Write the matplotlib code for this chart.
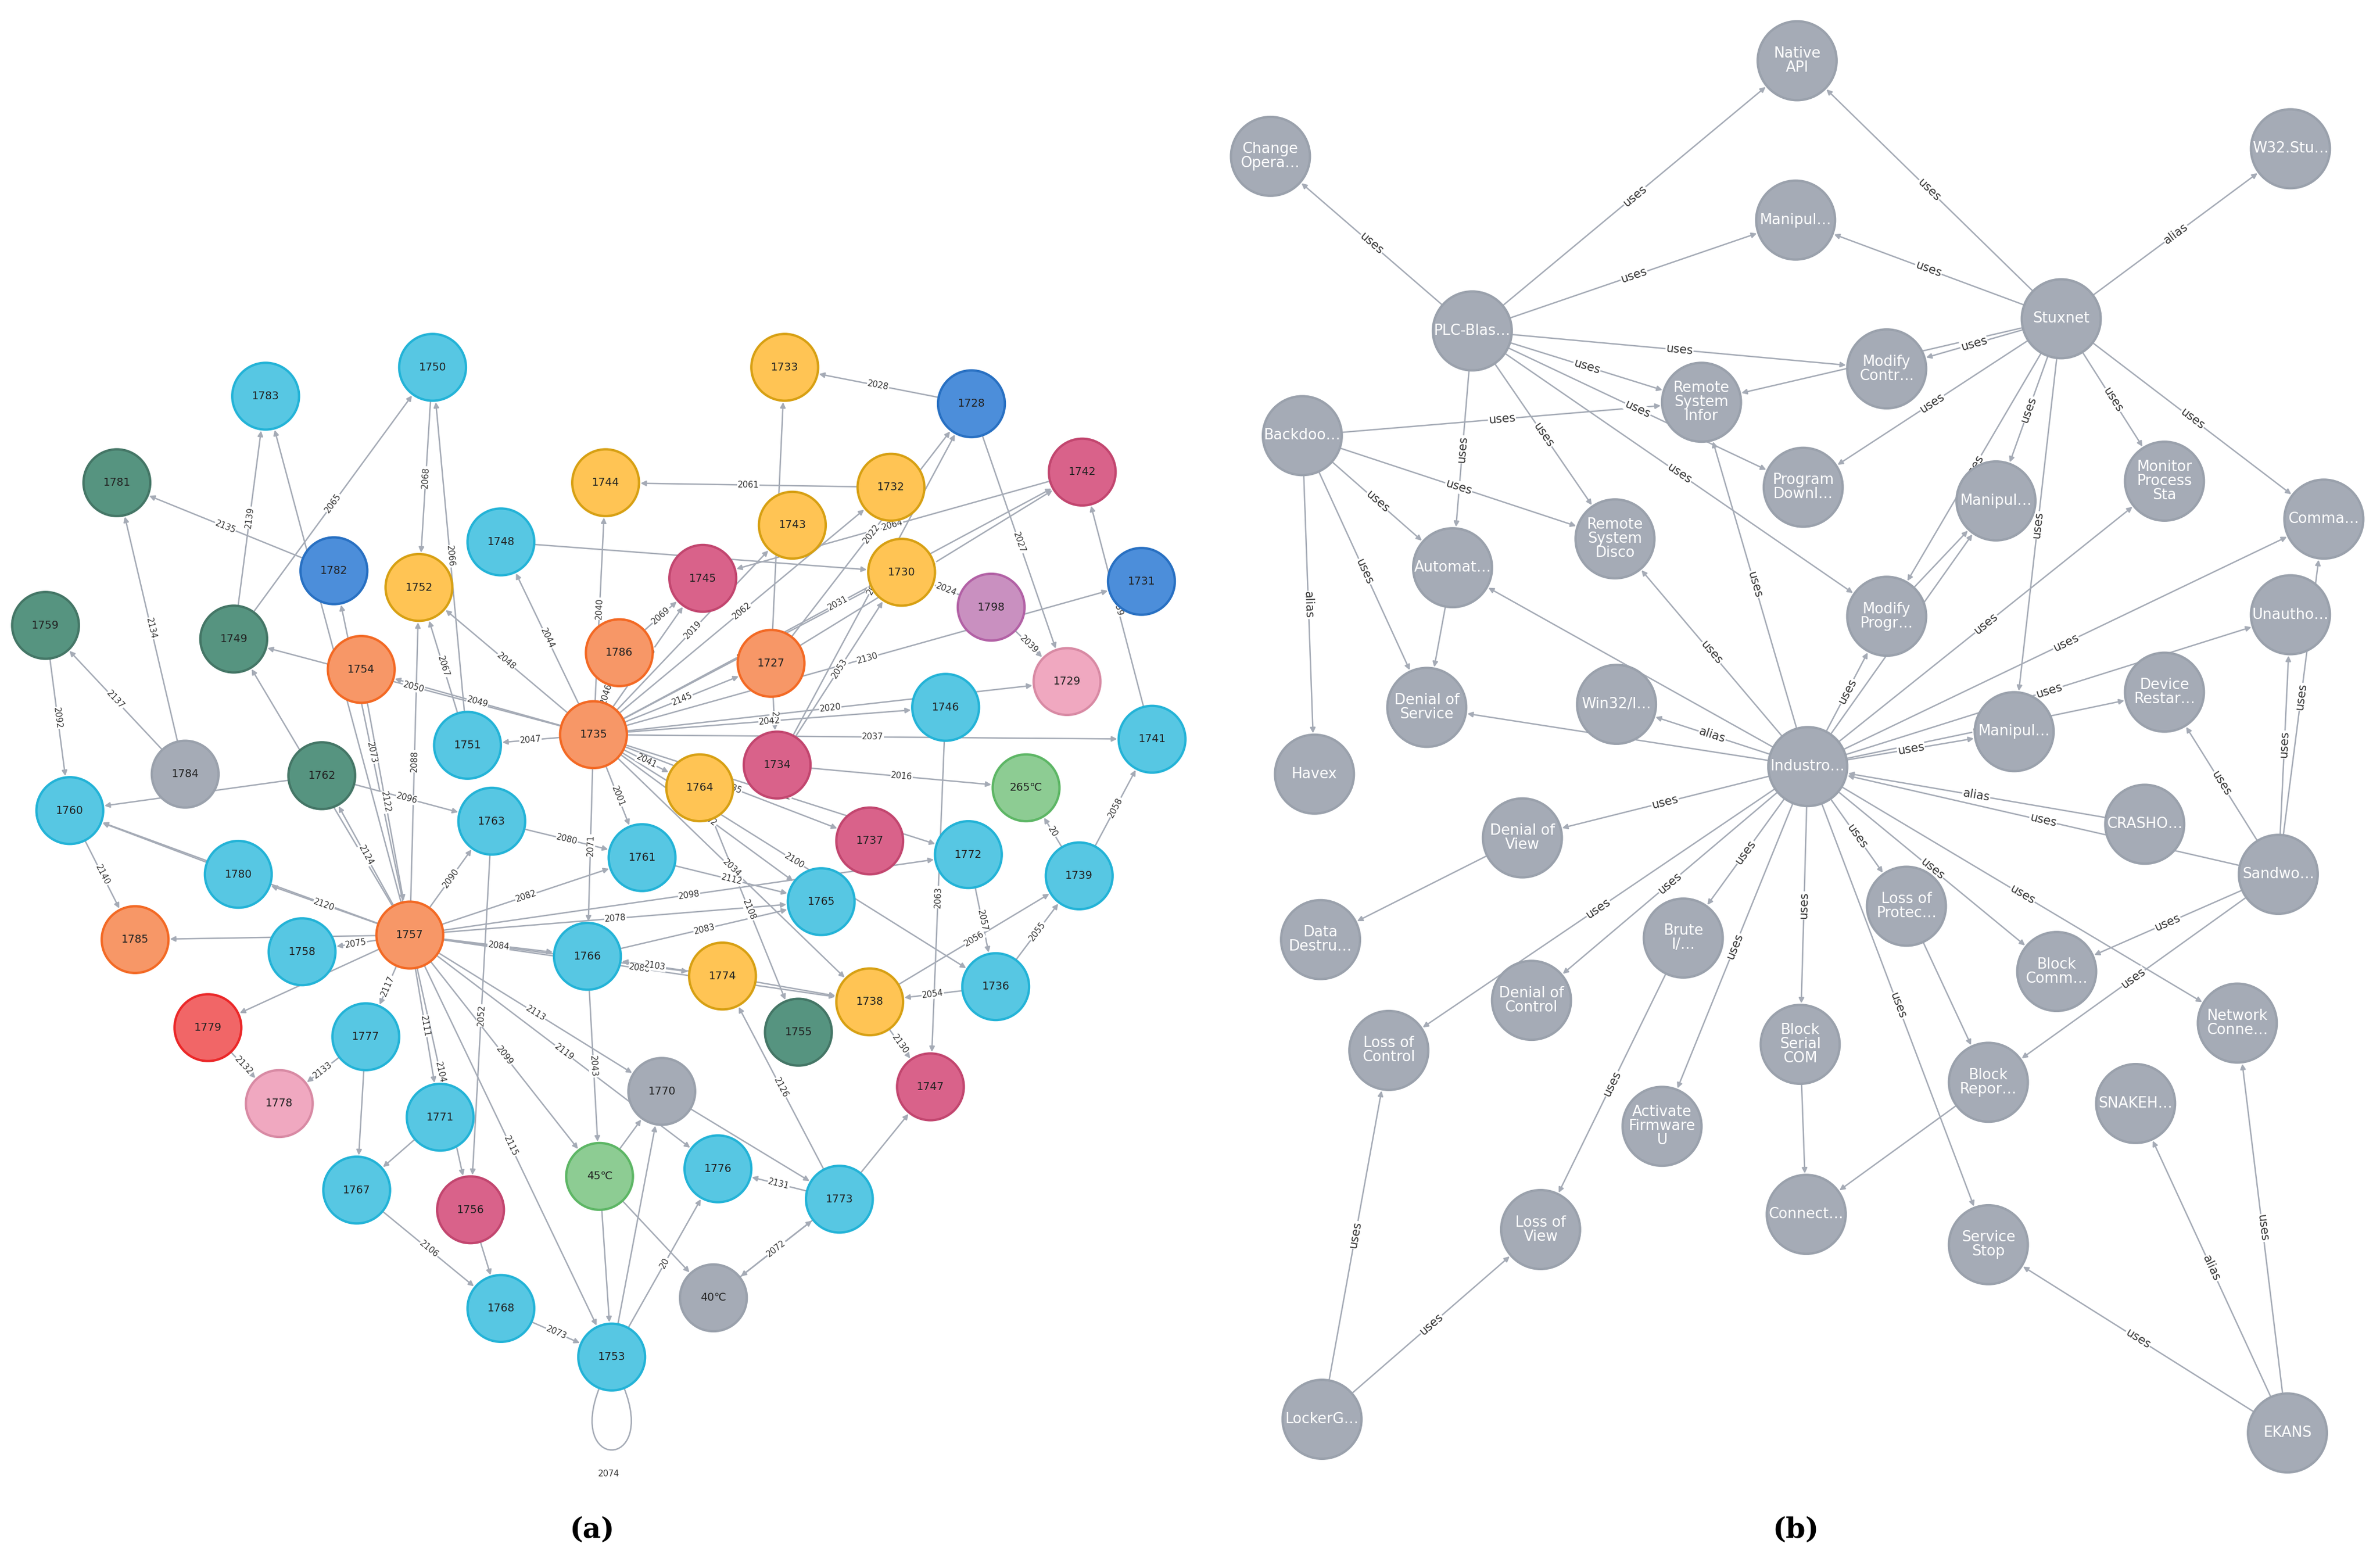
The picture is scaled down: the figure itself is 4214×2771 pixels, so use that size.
import math
import matplotlib
matplotlib.use('Agg')
import matplotlib.pyplot as plt
from matplotlib.patches import Circle, FancyArrowPatch
from matplotlib.path import Path
from matplotlib.patches import PathPatch

W, H = 1568, 1031            # layout space of the reference (pixels)
PX = (4214 / W) / 300 * 72   # points per layout pixel

col = {
    'cyan': ('#57C7E3', '#23B3D7'), 'yel': ('#FFC454', '#D7A013'),
    'org': ('#F79767', '#F36924'), 'dg': ('#569480', '#447666'),
    'pink': ('#D9628A', '#C2466F'), 'blue': ('#4C8EDA', '#2870C2'),
    'lp': ('#F0A8C0', '#D88AA4'), 'gray': ('#A5ABB6', '#9AA1AC'),
    'lg': ('#8DCC93', '#5DB665'), 'red': ('#F16667', '#EB2728'),
    'pur': ('#C990C0', '#B261A5'),
}

# panel (a) nodes: name, x, y, colour
a_nodes = [
    ('1750', 285, 242, 'cyan'), ('1783', 175, 261, 'cyan'), ('1781', 77, 318, 'dg'),
    ('1782', 220, 376, 'blue'), ('1752', 276, 387, 'yel'), ('1748', 330, 357, 'cyan'),
    ('1744', 399, 318, 'yel'), ('1733', 517, 242, 'yel'), ('1728', 640, 266, 'blue'),
    ('1732', 587, 321, 'yel'), ('1742', 713, 311, 'pink'), ('1743', 522, 346, 'yel'),
    ('1745', 463, 381, 'pink'), ('1730', 594, 377, 'yel'), ('1731', 752, 383, 'blue'),
    ('1798', 653, 400, 'pur'), ('1759', 30, 412, 'dg'), ('1749', 154, 421, 'dg'),
    ('1754', 238, 441, 'org'), ('1786', 408, 430, 'org'), ('1727', 508, 437, 'org'),
    ('1729', 703, 449, 'lp'), ('1746', 623, 466, 'cyan'), ('1741', 759, 487, 'cyan'),
    ('1784', 122, 510, 'gray'), ('1762', 212, 511, 'dg'), ('1751', 308, 491, 'cyan'),
    ('1735', 391, 484, 'org'), ('1734', 512, 504, 'pink'), ('1764', 461, 519, 'yel'),
    ('265℃', 676, 519, 'lg'), ('1760', 46, 534, 'cyan'), ('1763', 324, 541, 'cyan'),
    ('1737', 573, 554, 'pink'), ('1772', 638, 563, 'cyan'), ('1739', 711, 577, 'cyan'),
    ('1761', 423, 565, 'cyan'), ('1780', 157, 576, 'cyan'), ('1765', 541, 594, 'cyan'),
    ('1757', 270, 616, 'org'), ('1785', 89, 619, 'org'), ('1758', 199, 627, 'cyan'),
    ('1766', 387, 630, 'cyan'), ('1774', 476, 643, 'yel'), ('1736', 656, 650, 'cyan'),
    ('1738', 573, 660, 'yel'), ('1755', 526, 680, 'dg'), ('1779', 137, 677, 'red'),
    ('1777', 241, 683, 'cyan'), ('1747', 613, 716, 'pink'), ('1778', 184, 727, 'lp'),
    ('1771', 290, 736, 'cyan'), ('1770', 436, 719, 'gray'), ('45℃', 395, 775, 'lg'),
    ('1776', 473, 770, 'cyan'), ('1773', 553, 790, 'cyan'), ('1767', 235, 784, 'cyan'),
    ('1756', 310, 797, 'pink'), ('40℃', 470, 855, 'gray'), ('1768', 330, 862, 'cyan'),
    ('1753', 403, 894, 'cyan'),
]

a_edges = [
    ('1750', '1752', '2068'), ('1751', '1750', '2066'), ('1757', '1752', '2088'),
    ('1751', '1752', '2067'), ('1749', '1750', '2065'), ('1757', '1783', '2138'),
    ('1749', '1783', '2139'), ('1782', '1781', '2135'), ('1784', '1781', '2134'),
    ('1759', '1760', '2092'), ('1784', '1759', '2137'), ('1757', '1749', '2121'),
    ('1735', '1749', '2050'), ('1735', '1754', '2049'), ('1754', '1757', '2122'),
    ('1757', '1782', '2073'), ('1735', '1752', '2048'), ('1735', '1786', '2046'),
    ('1735', '1744', '2040'), ('1735', '1745', '2089'), ('1735', '1727', '2145'),
    ('1735', '1730', '2038'), ('1735', '1732', '2062'), ('1735', '1743', '2019'),
    ('1735', '1742', '2031'), ('1735', '1731', '2130'), ('1735', '1741', '2037'),
    ('1735', '1746', '2042'), ('1735', '1729', '2020'), ('1735', '1751', '2047'),
    ('1735', '1764', '2041'), ('1735', '1737', '2035'), ('1735', '1772', '2032'),
    ('1735', '1765', '2102'), ('1735', '1738', '2034'), ('1735', '1736', '2100'),
    ('1748', '1730', '2136'), ('1735', '1766', '2071'), ('1735', '1761', '2001'),
    ('1735', '1748', '2044'), ('1727', '1733', '2015'), ('1727', '1728', '2022'),
    ('1727', '1742', '2060'), ('1727', '1734', '2'), ('1734', '1728', '2018'),
    ('1734', '1730', '2053'), ('1728', '1733', '2028'), ('1728', '1729', '2027'),
    ('1732', '1744', '2061'), ('1742', '1745', '2064'), ('1798', '1730', '2024'),
    ('1798', '1729', '2039'), ('1741', '1742', '2059'), ('1746', '1747', '2063'),
    ('1734', '265℃', '2016'), ('1739', '265℃', '20'), ('1739', '1741', '2058'),
    ('1736', '1739', '2055'), ('1738', '1739', '2056'), ('1772', '1736', '2057'),
    ('1757', '1760', '2093'), ('1757', '1762', '2124'), ('1762', '1760', '2076'),
    ('1757', '1780', '2120'), ('1780', '1760', ''), ('1760', '1785', '2140'),
    ('1757', '1785', ''), ('1757', '1758', '2075'), ('1757', '1779', ''),
    ('1757', '1777', '2117'), ('1777', '1778', '2133'), ('1779', '1778', '2132'),
    ('1757', '1771', '2111'), ('1777', '1767', ''), ('1757', '1763', '2090'),
    ('1762', '1763', '2096'), ('1757', '1761', '2082'), ('1757', '1765', '2078'),
    ('1757', '1766', '2084'), ('1757', '1774', '2085'), ('1757', '1738', '2086'),
    ('1757', '1770', '2113'), ('1757', '1776', '2119'), ('1757', '45℃', '2099'),
    ('1757', '1753', '2115'), ('1757', '1756', '2104'), ('1757', '1772', '2098'),
    ('1763', '1756', '2052'), ('1766', '45℃', '2043'), ('1771', '1767', ''),
    ('1767', '1768', '2106'), ('1756', '1768', ''), ('45℃', '1753', ''),
    ('45℃', '1770', ''), ('45℃', '40℃', ''), ('1753', '1776', '20'),
    ('1768', '1753', '2073'), ('1753', '1770', ''), ('1773', '1776', '2131'),
    ('1773', '40℃', '2127'), ('1773', '1774', '2126'), ('1773', '1747', ''),
    ('1770', '1773', ''), ('40℃', '1773', '2072'), ('1738', '1747', '2130'),
    ('1736', '1738', '2054'), ('1763', '1761', '2080'), ('1761', '1765', '2112'),
    ('1766', '1765', '2083'), ('1774', '1766', '2103'), ('1764', '1755', '2108'),
    ('1774', '1738', ''), ('1786', '1745', '2069'),
]

# panel (b) nodes: label, x, y
b_nodes = [
    ('Native\nAPI', 1184, 40), ('Change\nOpera…', 837, 103), ('W32.Stu…', 1509, 98),
    ('Manipul…', 1183, 145), ('PLC-Blas…', 970, 218), ('Stuxnet', 1358, 210),
    ('Backdoo…', 858, 287), ('Remote\nSystem\nInfor', 1121, 265), ('Modify\nContr…', 1243, 243),
    ('Program\nDownl…', 1188, 321), ('Manipul…2', 1315, 330), ('Monitor\nProcess\nSta', 1426, 317),
    ('Comma…', 1531, 342), ('Remote\nSystem\nDisco', 1064, 355), ('Automat…', 957, 374),
    ('Modify\nProgr…', 1243, 406), ('Unautho…', 1509, 405), ('Denial of\nService', 940, 466),
    ('Win32/I…', 1065, 464), ('Industro…', 1191, 505), ('Manipul…3', 1327, 482),
    ('Device\nRestar…', 1426, 456), ('Havex', 866, 510), ('CRASHO…', 1413, 543),
    ('Denial of\nView', 1003, 552), ('Sandwo…', 1501, 576), ('Data\nDestru…', 870, 619),
    ('Loss of\nProtec…', 1256, 597), ('Brute\nI/…', 1109, 618), ('Block\nComm…', 1355, 640),
    ('Denial of\nControl', 1009, 659), ('Network\nConne…', 1474, 674), ('Loss of\nControl', 915, 692),
    ('Block\nSerial\nCOM', 1186, 688), ('Block\nRepor…', 1310, 713), ('Activate\nFirmware\nU', 1095, 742),
    ('SNAKEH…', 1407, 727), ('Connect…', 1190, 800), ('Loss of\nView', 1015, 810),
    ('Service\nStop', 1310, 820), ('LockerG…', 871, 935), ('EKANS', 1507, 944),
]

b_edges = [
    ('PLC-Blas…', 'Change\nOpera…', 'uses'), ('PLC-Blas…', 'Native\nAPI', 'uses'),
    ('PLC-Blas…', 'Manipul…', 'uses'), ('PLC-Blas…', 'Remote\nSystem\nInfor', 'uses'),
    ('PLC-Blas…', 'Modify\nContr…', 'uses'), ('PLC-Blas…', 'Program\nDownl…', 'uses'),
    ('PLC-Blas…', 'Remote\nSystem\nDisco', 'uses'), ('PLC-Blas…', 'Modify\nProgr…', 'uses'),
    ('PLC-Blas…', 'Automat…', 'uses'),
    ('Stuxnet', 'Native\nAPI', 'uses'), ('Stuxnet', 'W32.Stu…', 'alias'),
    ('Stuxnet', 'Manipul…', 'uses'), ('Stuxnet', 'Modify\nContr…', 'uses'),
    ('Stuxnet', 'Remote\nSystem\nInfor', 'uses'), ('Stuxnet', 'Program\nDownl…', 'uses'),
    ('Stuxnet', 'Manipul…2', 'uses'), ('Stuxnet', 'Monitor\nProcess\nSta', 'uses'),
    ('Stuxnet', 'Comma…', 'uses'), ('Stuxnet', 'Manipul…3', 'uses'),
    ('Stuxnet', 'Modify\nProgr…', 'uses'),
    ('Backdoo…', 'Havex', 'alias'), ('Backdoo…', 'Remote\nSystem\nInfor', 'uses'),
    ('Backdoo…', 'Remote\nSystem\nDisco', 'uses'), ('Backdoo…', 'Automat…', 'uses'),
    ('Backdoo…', 'Denial of\nService', 'uses'), ('Automat…', 'Denial of\nService', ''),
    ('Industro…', 'Remote\nSystem\nInfor', 'uses'), ('Industro…', 'Remote\nSystem\nDisco', 'uses'),
    ('Industro…', 'Automat…', ''), ('Industro…', 'Monitor\nProcess\nSta', 'uses'),
    ('Industro…', 'Modify\nProgr…', 'uses'), ('Industro…', 'Manipul…2', ''),
    ('Industro…', 'Unautho…', 'uses'), ('Industro…', 'Comma…', 'uses'),
    ('Industro…', 'Device\nRestar…', 'uses'), ('Industro…', 'Manipul…3', 'uses'),
    ('Industro…', 'Denial of\nService', ''), ('Industro…', 'Win32/I…', 'alias'),
    ('Industro…', 'Denial of\nView', 'uses'), ('Industro…', 'Loss of\nControl', 'uses'),
    ('Industro…', 'Denial of\nControl', 'uses'), ('Industro…', 'Brute\nI/…', 'uses'),
    ('Industro…', 'Activate\nFirmware\nU', 'uses'), ('Industro…', 'Block\nSerial\nCOM', 'uses'),
    ('Industro…', 'Service\nStop', 'uses'), ('Industro…', 'Loss of\nProtec…', 'uses'),
    ('Industro…', 'Block\nComm…', 'uses'), ('Industro…', 'Network\nConne…', 'uses'),
    ('CRASHO…', 'Industro…', 'alias'), ('Sandwo…', 'Industro…', 'uses'),
    ('Modify\nProgr…', 'Manipul…2', ''),
    ('Sandwo…', 'Comma…', 'uses'), ('Sandwo…', 'Unautho…', 'uses'),
    ('Sandwo…', 'Device\nRestar…', 'uses'), ('Sandwo…', 'Block\nComm…', 'uses'),
    ('Sandwo…', 'Block\nRepor…', 'uses'),
    ('Denial of\nView', 'Data\nDestru…', ''), ('Loss of\nProtec…', 'Block\nRepor…', ''),
    ('Block\nRepor…', 'Connect…', ''), ('Block\nSerial\nCOM', 'Connect…', ''),
    ('LockerG…', 'Loss of\nControl', 'uses'), ('LockerG…', 'Loss of\nView', 'uses'),
    ('Brute\nI/…', 'Loss of\nView', 'uses'),
    ('EKANS', 'Service\nStop', 'uses'), ('EKANS', 'SNAKEH…', 'alias'),
    ('EKANS', 'Network\nConne…', 'uses'),
]

fig = plt.figure(figsize=(4214 / 300, 2771 / 300), dpi=300)
ax = fig.add_axes([0, 0, 1, 1])
ax.set_xlim(0, W)
ax.set_ylim(H, 0)
ax.axis('off')

EC = '#A5ABB6'


def draw_edge(p, q, r, label, fs):
    x1, y1 = p
    x2, y2 = q
    ar = FancyArrowPatch((x1, y1), (x2, y2), arrowstyle='-|>', mutation_scale=4.5,
                         shrinkA=r * PX, shrinkB=(r + 1) * PX, color=EC, lw=0.6, zorder=1)
    ax.add_patch(ar)
    if label:
        ang = -math.degrees(math.atan2(y2 - y1, x2 - x1))
        if ang > 90:
            ang -= 180
        if ang < -90:
            ang += 180
        ax.text((x1 + x2) / 2, (y1 + y2) / 2, label, fontsize=fs, rotation=ang,
                rotation_mode='anchor', ha='center', va='center', color='#333333',
                bbox=dict(boxstyle='square,pad=0.05', fc='white', ec='none'), zorder=2)


# panel (a)
apos = {n: (x, y) for n, x, y, c in a_nodes}
for s, t, lab in a_edges:
    draw_edge(apos[s], apos[t], 22, lab, 3.6)

# self loop on 1753
lx, ly = apos['1753']
loop = Path([(lx - 8, ly + 20), (lx - 30, ly + 75), (lx + 30, ly + 75), (lx + 8, ly + 20)],
            [Path.MOVETO, Path.CURVE4, Path.CURVE4, Path.CURVE4])
ax.add_patch(PathPatch(loop, fc='none', ec=EC, lw=0.6, zorder=1))
ax.text(lx - 2, ly + 77, '2074', fontsize=3.6, ha='center', va='center', color='#333333')

for n, x, y, c in a_nodes:
    fc, ec = col[c]
    ax.add_patch(Circle((x, y), 22, fc=fc, ec=ec, lw=1.0, zorder=3))
    ax.text(x, y, n, fontsize=4.6, ha='center', va='center', color='#222222', zorder=4)

# panel (b)
bpos = {n: (x, y) for n, x, y in b_nodes}
for s, t, lab in b_edges:
    draw_edge(bpos[s], bpos[t], 26, lab, 5.0)

for n, x, y in b_nodes:
    ax.add_patch(Circle((x, y), 26, fc='#A5ABB6', ec='#9AA1AC', lw=1.0, zorder=3))
    txt = n.rstrip('23') if n.startswith('Manipul') else n
    ax.text(x, y, txt, fontsize=6.2, ha='center', va='center', color='white',
            linespacing=0.95, zorder=4)

ax.text(390, 1008, '(a)', fontsize=12, ha='center', va='center', family='serif', weight='bold')
ax.text(1183, 1008, '(b)', fontsize=12, ha='center', va='center', family='serif', weight='bold')

fig.savefig('out.png', dpi=300)
